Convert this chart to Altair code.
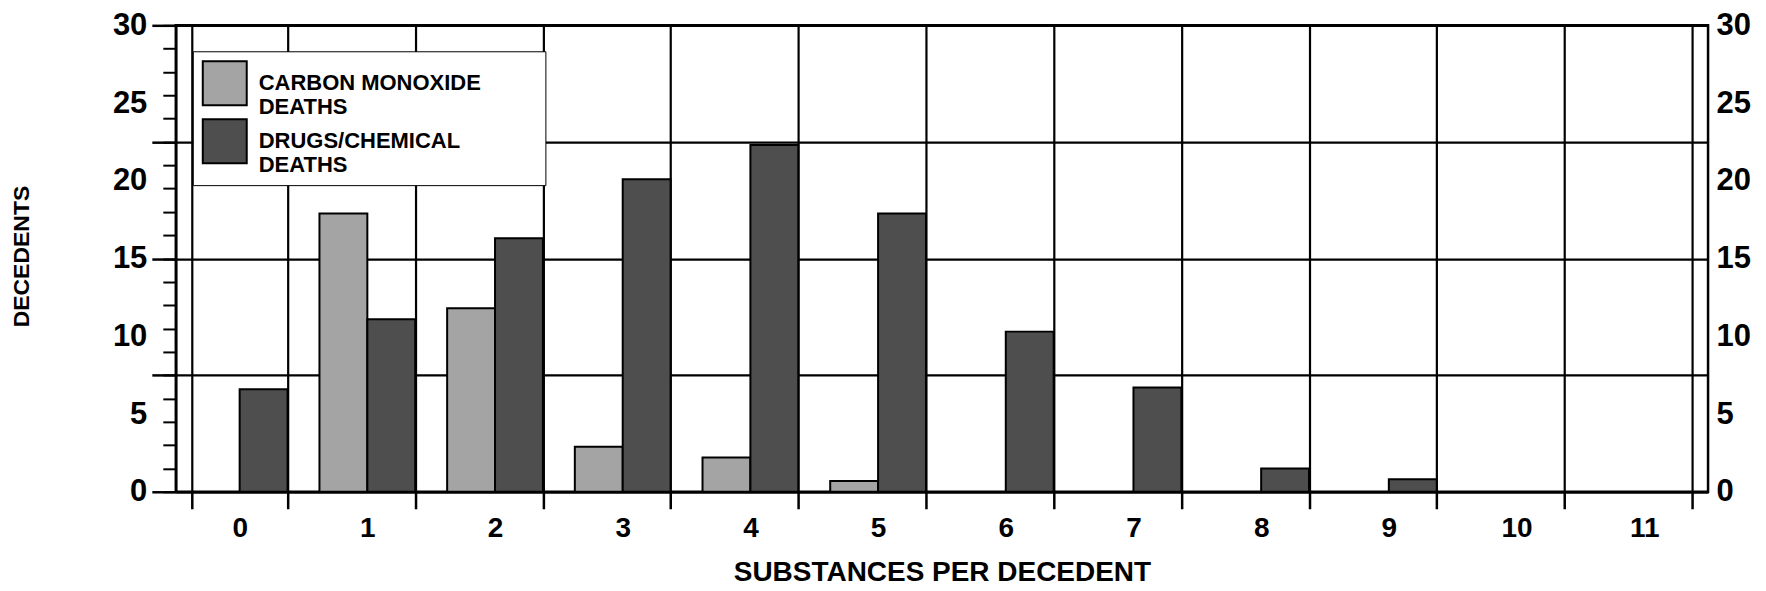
import altair as alt
import pandas as pd

# ---- data ----
categories = ["0", "1", "2", "3", "4", "5", "6", "7", "8", "9", "10", "11"]
series_names = ["CARBON MONOXIDE|DEATHS", "DRUGS/CHEMICAL|DEATHS"]
co_deaths = [0, 17.9, 11.8, 2.9, 2.2, 0.7, 0, 0, 0, 0, 0, 0]
drug_deaths = [6.6, 11.1, 16.3, 20.1, 22.3, 17.9, 10.3, 6.7, 1.5, 0.8, 0, 0]
y_label_values = [0, 5, 10, 15, 20, 25, 30]
y_minor_ticks = [0, 1.5, 3, 4.5, 6, 7.5, 9, 10.5, 12, 13.5, 15, 16.5, 18,
                 19.5, 21, 22.5, 24, 25.5, 27, 28.5, 30]
y_major_ticks = [0, 7.5, 15, 22.5, 30]
series_colors = ["#a4a4a4", "#4e4e4e"]

rows = []
for c, co, dr in zip(categories, co_deaths, drug_deaths):
    if co > 0:
        rows.append({"cat": c, "series": series_names[0], "value": co})
    if dr > 0:
        rows.append({"cat": c, "series": series_names[1], "value": dr})
df = pd.DataFrame(rows)

FONT = "Liberation Sans"
ydom = alt.Scale(domain=[0, 30], nice=False, zero=True)
# trailing no-break spaces (kept from trimming by a zero-width char) widen the legend box
pad = "\u00a0" * 9 + "\u200b"
label_expr = ("[split(datum.label, '|')[0] + '" + pad + "', split(datum.label, '|')[1]]")

bars = alt.Chart(df).mark_bar(stroke="black", strokeWidth=2).encode(
    x=alt.X(
        "cat:N", sort=categories,
        scale=alt.Scale(domain=categories, paddingInner=0.25, paddingOuter=0.125),
        axis=alt.Axis(
            title="SUBSTANCES PER DECEDENT", tickBand="extent",
            grid=True, gridColor="black", gridWidth=2.2, gridOpacity=1,
            ticks=True, tickColor="black", tickWidth=2.5, tickSize=17,
            domain=True, domainColor="black", domainWidth=2.5,
            labelAngle=0, labelFont=FONT, labelFontSize=28, labelFontWeight="bold",
            labelColor="black", labelBaseline="alphabetic", labelPadding=28,
            titleFont=FONT, titleFontSize=28, titleFontWeight="bold",
            titleColor="black", titleBaseline="alphabetic", titleY=89,
        ),
    ),
    xOffset=alt.XOffset("series:N",
                        scale=alt.Scale(domain=series_names, paddingInner=0, paddingOuter=0)),
    y=alt.Y(
        "value:Q", scale=ydom,
        axis=alt.Axis(
            orient="left", values=y_label_values, ticks=False, grid=False,
            domain=True, domainColor="black", domainWidth=2.5,
            labelFont=FONT, labelFontSize=31, labelFontWeight="bold", labelColor="black",
            labelPadding=29,
            title="DECEDENTS", titleX=-154, titleY=231, titleAngle=270,
            titleAlign="center", titleBaseline="middle",
            titleFont=FONT, titleFontSize=23, titleFontWeight="bold", titleColor="black",
        ),
    ),
    fill=alt.Fill(
        "series:N",
        scale=alt.Scale(domain=series_names, range=series_colors),
        legend=alt.Legend(
            title=None, orient="none", legendX=17, legendY=26, direction="vertical",
            labelExpr=label_expr, labelFont=FONT, labelFontSize=22, labelFontWeight="bold",
            labelColor="black", labelOffset=11, labelLimit=600,
            symbolType="square", symbolSize=1936, symbolStrokeColor="black",
            symbolStrokeWidth=2, symbolOpacity=1,
            padding=9, strokeColor="black", fillColor="white", rowPadding=-4,
        ),
    ),
)

minor = alt.Chart(df).mark_point(opacity=0).encode(
    y=alt.Y("value:Q", scale=ydom, title=None,
            axis=alt.Axis(orient="left", values=y_minor_ticks, ticks=True, tickSize=13,
                          tickWidth=2, tickColor="black", labels=False, domain=False,
                          grid=False))
)

major = alt.Chart(df).mark_point(opacity=0).encode(
    y=alt.Y("value:Q", scale=ydom, title=None,
            axis=alt.Axis(orient="left", values=y_major_ticks, ticks=True, tickSize=24,
                          tickWidth=2.5, tickColor="black", labels=False, domain=False,
                          grid=True, gridColor="black", gridWidth=2.2, gridOpacity=1))
)

right = alt.Chart(df).mark_point(opacity=0).encode(
    y=alt.Y("value:Q", scale=ydom, title=None,
            axis=alt.Axis(orient="right", values=y_label_values, ticks=False, domain=False,
                          grid=False, labelFont=FONT, labelFontSize=31,
                          labelFontWeight="bold", labelColor="black", labelPadding=8,
                          labelAlign="left"))
)

chart = (
    alt.layer(bars, minor, major, right)
    .resolve_axis(y="independent")
    .properties(
        width=1534, height=467,
        autosize=alt.AutoSizeParams(type="none"),
        padding={"left": 168, "top": 17, "right": 50, "bottom": 95},
        background="white",
    )
    .configure_view(stroke="black", strokeWidth=2.5)
)

chart.save("out.html", embed_options={"renderer": "svg", "actions": False})
